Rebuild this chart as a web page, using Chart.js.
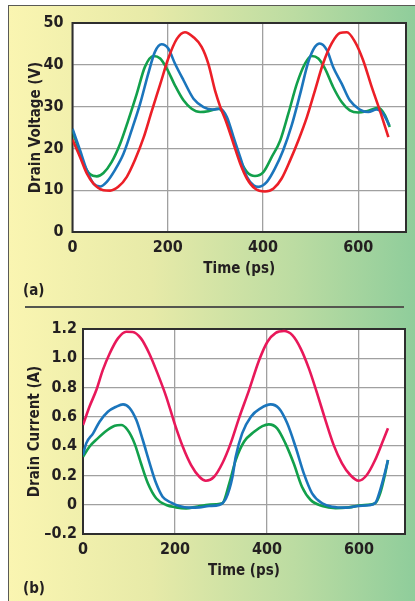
<!DOCTYPE html>
<html lang="en">
<head>
    <meta charset="UTF-8">
    <title>Drain Voltage and Current</title>
    <style>
        body {
            margin: 0;
            width: 415px;
            height: 601px;
            background: #fff;
            position: relative;
            overflow: hidden;
            font-family: 'Liberation Sans Narrow', 'DejaVu Sans Condensed', sans-serif;
            color: #231f20;
        }
        #panel {
            position: absolute;
            left: 8px;
            top: 5px;
            right: 0;
            bottom: 0;
            border-left: 1.5px solid #5a5a55;
            border-top: 1.5px solid #5a5a55;
            background: linear-gradient(to right, #faf5b1 0%, #e7eaa8 35%, #bcdca2 70%, #8fcd9b 100%);
        }
        canvas {
            position: absolute;
            left: 0;
        }
        #chartA { top: 0; }
        #chartB { top: 300px; }
        .tag {
            position: absolute;
            left: 23px;
            font-weight: bold;
            font-size: 15px;
        }
        #sep {
            position: absolute;
            left: 25px;
            width: 379px;
            top: 306px;
            height: 2px;
            background: #54564f;
        }
    </style>
    <script src="https://cdn.jsdelivr.net/npm/chart.js"></script>
</head>
<body>
    <div id="panel"></div>
    <canvas id="chartA" width="415" height="300"></canvas>
    <div id="sep"></div>
    <canvas id="chartB" width="415" height="301"></canvas>
    <div class="tag" style="top:281px">(a)</div>
    <div class="tag" style="top:579px">(b)</div>

    <script>
        // x tick labels shared by both panels
        const timeTicks = [0, 200, 400, 600];

        // (a) drain voltage
        const voltTicks = ['0', '10', '20', '30', '40', '50'];
        const redVoltT = [0, 16, 30, 44, 65, 79, 96, 114, 131, 149, 166, 184, 201, 219, 236, 254, 271, 285, 300, 310, 324, 338, 352, 366, 383, 404, 422, 439, 457, 474, 492, 509, 526, 544, 561, 576, 593, 610, 628, 645, 663];
        const redVolt = [22.1, 17.9, 14.0, 11.6, 10.0, 9.9, 10.8, 13.2, 17.2, 22.5, 28.8, 35.3, 41.5, 46.2, 47.8, 46.6, 44.3, 40.3, 33.5, 30.0, 25.9, 21.1, 16.4, 12.8, 10.4, 9.7, 10.4, 12.8, 17.2, 21.9, 27.5, 33.9, 40.3, 45.1, 47.6, 47.8, 45.5, 41.1, 34.7, 29.1, 22.7];
        const blueVoltT = [0, 16, 30, 44, 58, 72, 89, 107, 124, 142, 159, 173, 187, 201, 215, 233, 254, 275, 295, 310, 324, 338, 352, 366, 380, 390, 408, 425, 442, 460, 478, 495, 509, 519, 534, 547, 565, 582, 603, 621, 638, 652, 665];
        const blueVolt = [24.7, 19.5, 14.8, 11.6, 10.9, 12.0, 14.8, 18.7, 24.3, 30.7, 37.9, 43.1, 44.9, 43.9, 40.3, 36.3, 31.9, 29.9, 29.3, 29.5, 27.5, 22.7, 17.9, 13.2, 11.2, 10.8, 12.0, 15.2, 19.5, 25.5, 33.1, 40.7, 44.3, 45.1, 43.5, 39.5, 35.5, 31.5, 29.3, 28.7, 29.3, 28.3, 25.5];
        const greenVoltT = [0, 9, 23, 37, 51, 65, 82, 100, 117, 135, 152, 170, 184, 198, 215, 233, 250, 268, 285, 307, 324, 338, 352, 366, 383, 401, 418, 436, 453, 471, 488, 502, 516, 530, 547, 565, 582, 600, 617, 642, 656, 666];
        const greenVolt = [24.3, 21.1, 16.4, 13.8, 13.3, 14.1, 16.7, 21.1, 26.7, 33.1, 39.5, 42.1, 41.5, 39.1, 35.1, 31.5, 29.5, 28.7, 28.9, 29.5, 26.7, 21.9, 17.2, 14.4, 13.4, 14.4, 17.9, 21.9, 28.3, 35.5, 40.3, 42.1, 41.5, 39.1, 34.7, 31.1, 29.1, 28.6, 28.9, 29.7, 27.9, 25.1];

        // (b) drain current
        const currTicks = ['\u20130.2', '0', '0.2', '0.4', '0.6', '0.8', '1.0', '1.2'];
        const redCurrT = [0, 14, 29, 43, 58, 76, 94, 108, 126, 144, 162, 181, 199, 217, 235, 253, 267, 285, 303, 321, 339, 361, 383, 401, 419, 437, 455, 473, 491, 509, 527, 545, 563, 581, 599, 617, 635, 650, 663];
        const redCurr = [0.544, 0.669, 0.783, 0.919, 1.033, 1.136, 1.181, 1.18, 1.136, 1.033, 0.897, 0.737, 0.556, 0.396, 0.271, 0.191, 0.164, 0.191, 0.283, 0.419, 0.59, 0.783, 0.988, 1.113, 1.174, 1.186, 1.158, 1.068, 0.931, 0.760, 0.578, 0.407, 0.283, 0.203, 0.164, 0.203, 0.305, 0.419, 0.522];
        const blueCurrT = [0, 7, 22, 36, 54, 72, 87, 101, 116, 130, 145, 159, 173, 192, 209, 231, 253, 274, 296, 311, 325, 332, 346, 365, 386, 408, 426, 444, 462, 480, 498, 520, 542, 571, 599, 621, 636, 646, 656, 663];
        const blueCurr = [0.339, 0.419, 0.487, 0.567, 0.635, 0.669, 0.685, 0.662, 0.578, 0.442, 0.283, 0.146, 0.055, 0.014, -0.009, -0.02, -0.018, -0.009, -0.002, 0.044, 0.191, 0.328, 0.487, 0.601, 0.658, 0.685, 0.658, 0.556, 0.396, 0.214, 0.078, 0.01, -0.014, -0.02, -0.009, -0.004, 0.014, 0.1, 0.214, 0.305];
        const greenCurrT = [0, 14, 32, 51, 69, 83, 97, 112, 126, 141, 159, 181, 202, 224, 246, 267, 289, 303, 318, 332, 350, 372, 390, 404, 422, 440, 458, 476, 495, 520, 549, 578, 606, 635, 646, 657, 663];
        const greenCurr = [0.328, 0.396, 0.453, 0.505, 0.539, 0.544, 0.51, 0.419, 0.283, 0.146, 0.044, -0.002, -0.018, -0.025, -0.014, -0.002, 0.003, 0.01, 0.146, 0.305, 0.43, 0.498, 0.537, 0.549, 0.522, 0.419, 0.283, 0.123, 0.032, -0.009, -0.023, -0.018, -0.004, 0.01, 0.078, 0.214, 0.305];

        const FONT = "'Liberation Sans Narrow', 'DejaVu Sans Condensed', sans-serif";
        const INK = '#231f20';
        Chart.defaults.font.family = FONT;
        Chart.defaults.color = INK;

        // white plot area with a dark frame round it
        const plotBox = {
            id: 'plotBox',
            beforeDraw(chart) {
                const { ctx, chartArea: a } = chart;
                ctx.save();
                ctx.fillStyle = '#fff';
                ctx.fillRect(a.left, a.top, a.width, a.height);
                ctx.restore();
            },
            beforeDatasetsDraw(chart) {
                const { ctx, chartArea: a } = chart;
                ctx.save();
                ctx.strokeStyle = '#2e2e2e';
                ctx.lineWidth = 2;
                ctx.strokeRect(a.left, a.top, a.width, a.height);
                ctx.restore();
            }
        };

        function toPoints(ts, vs) {
            return ts.map((t, i) => ({ x: t, y: vs[i] }));
        }

        function line(ts, vs, color) {
            return {
                data: toPoints(ts, vs),
                borderColor: color,
                borderWidth: 2.6,
                pointRadius: 0,
                cubicInterpolationMode: 'monotone',
                fill: false
            };
        }

        function makeChart(id, datasets, opts) {
            const tickFont = { size: 16, weight: 'bold', family: FONT };
            const titleFont = { size: 15, weight: 'bold', family: FONT };
            new Chart(document.getElementById(id), {
                type: 'line',
                data: { datasets: datasets },
                options: {
                    responsive: false,
                    animation: false,
                    layout: { padding: opts.padding },
                    plugins: { legend: { display: false }, tooltip: { enabled: false } },
                    scales: {
                        x: {
                            type: 'linear',
                            min: 0,
                            max: 700,
                            afterBuildTicks: sc => { sc.ticks = timeTicks.map(v => ({ value: v })); },
                            afterFit: sc => { sc.height = opts.xHeight; },
                            grid: { color: '#a0a0a0', lineWidth: 1.3, drawTicks: false },
                            border: { display: false },
                            ticks: { font: tickFont, padding: 6, maxRotation: 0 },
                            title: {
                                display: true,
                                text: 'Time (ps)',
                                font: titleFont,
                                padding: { top: 0, bottom: opts.xTitlePad }
                            }
                        },
                        y: {
                            min: opts.yMin,
                            max: opts.yMax,
                            afterBuildTicks: sc => {
                                sc.ticks = opts.yLabels.map((s, i) => ({ value: opts.yMin + i * opts.yStep }));
                            },
                            afterFit: sc => { sc.width = opts.yWidth; },
                            grid: { color: '#a0a0a0', lineWidth: 1.3, drawTicks: false },
                            border: { display: false },
                            ticks: {
                                font: tickFont,
                                padding: opts.yTickPad,
                                callback: (v, i) => opts.yLabels[i]
                            },
                            title: {
                                display: true,
                                text: opts.yTitle,
                                font: titleFont,
                                padding: { top: opts.yTitlePad, bottom: 0 }
                            }
                        }
                    }
                },
                plugins: [plotBox]
            });
        }

        makeChart('chartA', [
            line(redVoltT, redVolt, '#ec1f27'),
            line(blueVoltT, blueVolt, '#1b75bc'),
            line(greenVoltT, greenVolt, '#12a04b')
        ], {
            padding: { left: 0, right: 9, top: 23, bottom: 0 },
            xHeight: 68, xTitlePad: 21.5,
            yMin: 0, yMax: 50, yStep: 10, yLabels: voltTicks,
            yWidth: 72.5, yTickPad: 9, yTitle: 'Drain Voltage (V)', yTitlePad: 27
        });

        makeChart('chartB', [
            line(redCurrT, redCurr, '#e8185a'),
            line(blueCurrT, blueCurr, '#1b75bc'),
            line(greenCurrT, greenCurr, '#12a04b')
        ], {
            padding: { left: 0, right: 10, top: 29, bottom: 0 },
            xHeight: 67, xTitlePad: 21,
            yMin: -0.2, yMax: 1.2, yStep: 0.2, yLabels: currTicks,
            yWidth: 83, yTickPad: 6, yTitle: 'Drain Current (A)', yTitlePad: 26
        });
    </script>
</body>
</html>
